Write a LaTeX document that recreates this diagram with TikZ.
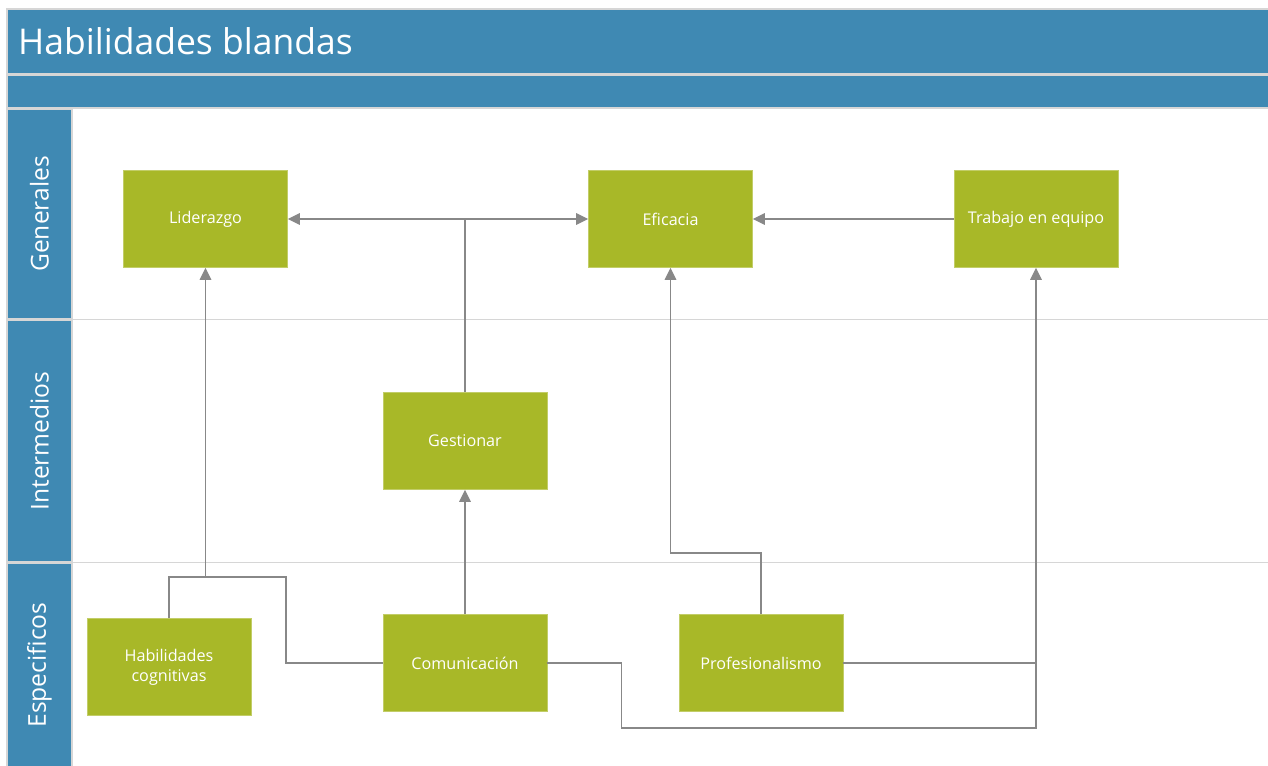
\documentclass[tikz,border=0pt]{standalone}
\usepackage{fontspec}
\setmainfont{Open Sans}
\usetikzlibrary{arrows.meta,positioning}
\definecolor{laneblue}{HTML}{3F89B3}
\definecolor{boxgreen}{HTML}{A8B828}
\definecolor{linegray}{HTML}{888888}
\definecolor{sepgray}{HTML}{D6D6D6}

\begin{document}
\begin{tikzpicture}[
        x=0.02cm, y=-0.02cm,
        box/.style={rectangle, fill=boxgreen, draw=boxgreen!70!white, minimum width=3.28cm, minimum height=1.94cm, align=center, text=white, font=\fontsize{9.2}{11.5}\selectfont},
        lane/.style={fill=laneblue, draw=sepgray, line width=0.8pt},
        lanetitle/.style={rotate=90, text=white, font=\fontsize{14}{16}\selectfont},
        link/.style={draw=linegray, line width=0.9pt},
        arrow/.style={link, -{Triangle[length=2.4mm, width=2.3mm]}}
    ]
        \useasboundingbox[fill=white] (0,0) rectangle (1268,766);

        % header bars and lanes
        \draw[lane] (7,9) rectangle (1275,74);
        \draw[lane] (7,75) rectangle (1275,108);
        \draw[lane] (7,109) rectangle (72,319);
        \draw[lane] (7,320) rectangle (72,562);
        \draw[lane] (7,563) rectangle (72,775);
        \draw[sepgray, line width=1pt] (72,319.5) -- (1275,319.5);
        \draw[sepgray, line width=1pt] (72,562.5) -- (1275,562.5);

        \node[anchor=west, text=white, font=\fontsize{20.2}{23}\selectfont] (title) at (12,41) {Habilidades blandas};
        \node[lanetitle] (generales) at (39.5,214) {Generales};
        \node[lanetitle] (intermedios) at (39.5,441) {Intermedios};
        \node[lanetitle] (especificos) at (39.5,665) {Especificos};

        \node[box] (lid) at (205.5,219) {Liderazgo};
        \node[box] (efi) at (670.5,219) {Eficacia};
        \node[box] (trab) at (1036,219) {Trabajo en equipo};
        \node[box] (gest) at (465,441) {Gestionar};
        \node[box] (hab) at (169,667) {Habilidades\\cognitivas};
        \node[box] (com) at (465,663) {Comunicación};
        \node[box] (prof) at (761,663) {Profesionalismo};

        \coordinate (split) at (gest.north |- lid.east);
        \coordinate (lowbus) at (0,577);
        \coordinate (midbus) at (0,553);
        \coordinate (botbus) at (0,728);
        \coordinate (comturn) at (286,577);

        \draw[link] (gest.north) -- (split);
        \draw[arrow] (split) -- (lid.east);
        \draw[arrow] (split) -- (efi.west);
        \draw[arrow] (trab.west) -- (efi.east);
        \draw[arrow] (com.north) -- (gest.south);

        \draw[link] (hab.north) |- (lid.south |- lowbus);
        \draw[link] (com.west) -| (comturn) -- (lid.south |- lowbus);
        \draw[arrow] (lid.south |- lowbus) -- (lid.south);

        \draw[arrow] (prof.north) |- (efi.south |- midbus) -- (efi.south);
        \draw[arrow] (prof.east) -| (trab.south);
        \draw[link] (com.east) -- ++(74,0) |- (trab.south |- botbus) -- (trab.south |- prof.east);
    \end{tikzpicture}
\end{document}
